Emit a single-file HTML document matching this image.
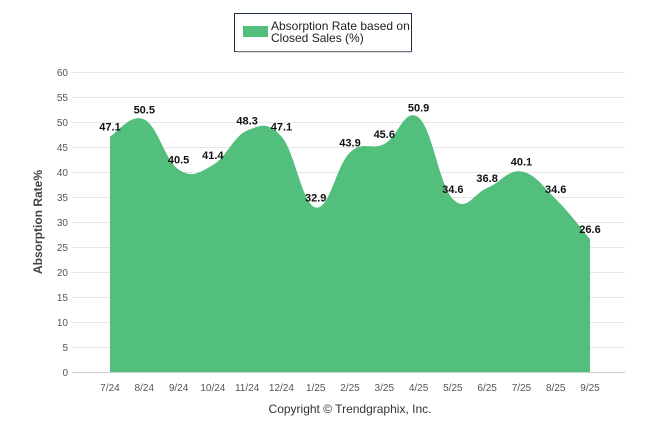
<!DOCTYPE html>
<html><head><meta charset="utf-8"><style>
body{margin:0;background:#fff;font-family:"Liberation Sans",sans-serif}
svg{display:block}
</style></head><body>
<svg id="c" width="646" height="434">
<rect x="234.5" y="13.5" width="177" height="38" fill="#fff" stroke="#1f2d4d" stroke-width="1"/>
<rect x="236" y="51" width="177" height="2" fill="#bbb" opacity="0.5"/>
<rect x="243" y="26" width="25" height="11" fill="#52bf7c"/>
<text x="271" y="30" font-size="12" fill="#222">Absorption Rate based on</text>
<text x="271" y="42" font-size="12" fill="#222">Closed Sales (%)</text>
<g id="grid"></g>
<path id="area" fill="#52bf7c"/>
<g id="xl"></g>
<g id="vals"></g>
<text transform="translate(42,222) rotate(-90)" text-anchor="middle" font-size="12" font-weight="bold" fill="#444">Absorption Rate%</text>
<text x="350" y="413" text-anchor="middle" font-size="12" fill="#333">Copyright © Trendgraphix, Inc.</text>
</svg>
<script>
const categories=["7/24","8/24","9/24","10/24","11/24","12/24","1/25","2/25","3/25","4/25","5/25","6/25","7/25","8/25","9/25"];
const values=[47.1,50.5,40.5,41.4,48.3,47.1,32.9,43.9,45.6,50.9,34.6,36.8,40.1,34.6,26.6];
const yTicks=[0,5,10,15,20,25,30,35,40,45,50,55,60];
const NS="http://www.w3.org/2000/svg";
const x0=110,dx=(590-110)/(categories.length-1);
const X=i=>x0+i*dx, Y=v=>372-v*5;
function el(t,a,p){const e=document.createElementNS(NS,t);for(const k in a)e.setAttribute(k,a[k]);p.appendChild(e);return e;}
const grid=document.getElementById('grid');
yTicks.forEach(t=>{
 const l=el('line',{x1:72,x2:625,y1:Y(t)+0.5,y2:Y(t)+0.5,stroke:t===0?'#ccc':'#e6e6e6'},grid);
 
 
 const tx=el('text',{x:68,y:Y(t)+4,'text-anchor':'end','font-size':10,fill:'#555'},grid);
 tx.textContent=t;
 
 
});
const xl=document.getElementById('xl');
categories.forEach((c,i)=>{
 const t=el('text',{x:X(i),y:391,'text-anchor':'middle','font-size':10,fill:'#555'},xl);
 t.textContent=c;
 
 
});
const pts=values.map((v,i)=>[X(i),Y(v)]);
let d=`M${pts[0][0]},372 L${pts[0][0]},${pts[0][1]}`;
for(let i=0;i<pts.length-1;i++){
 const p0=pts[Math.max(0,i-1)],p1=pts[i],p2=pts[i+1],p3=pts[Math.min(pts.length-1,i+2)];
 const k=0.2;
 const c1=[p1[0]+(p2[0]-p0[0])*k,p1[1]+(p2[1]-p0[1])*k];
 const c2=[p2[0]-(p3[0]-p1[0])*k,p2[1]-(p3[1]-p1[1])*k];
 d+=` C${c1[0]},${c1[1]} ${c2[0]},${c2[1]} ${p2[0]},${p2[1]}`;
}
d+=` L${pts[pts.length-1][0]},372 Z`;
document.getElementById('area').setAttribute('d',d);
const vals=document.getElementById('vals');
values.forEach((v,i)=>{
 const t=el('text',{x:X(i),y:Y(v)-6,'text-anchor':'middle','font-size':11,'font-weight':'bold',fill:'#111'},vals);
 t.textContent=v.toFixed(1);
 
 
});
</script>
</body></html>
